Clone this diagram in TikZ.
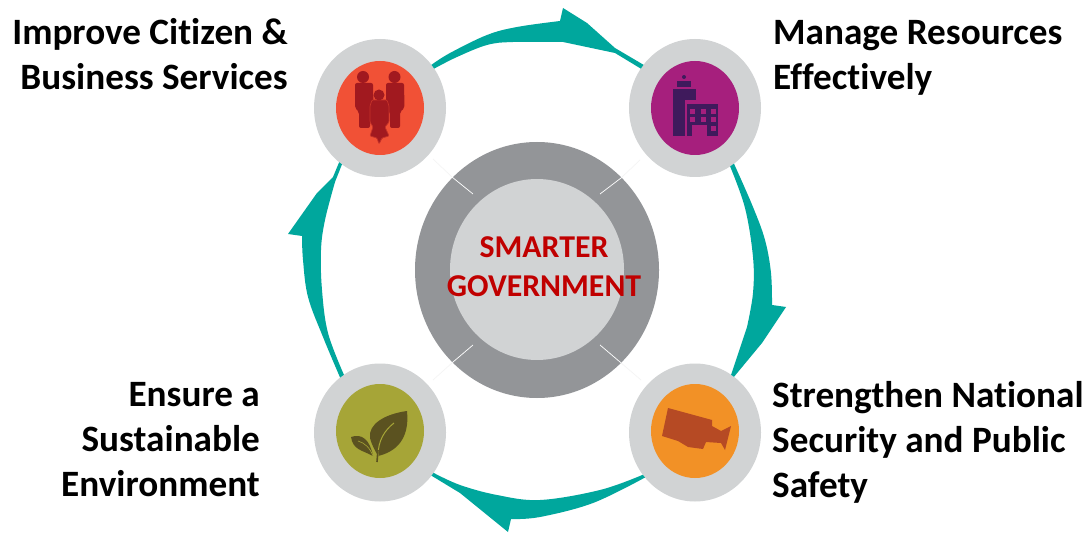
\documentclass[tikz,border=0pt]{standalone}
\usepackage{fontspec}
\setmainfont[Ligatures=NoCommon]{Carlito}
\usetikzlibrary{shapes.geometric}
\definecolor{cteal}{HTML}{00A79D}
\definecolor{cring}{HTML}{939598}
\definecolor{clight}{HTML}{D1D3D4}
\definecolor{cred}{HTML}{F15136}
\definecolor{cdred}{HTML}{A1191F}
\definecolor{cpur}{HTML}{A61F7D}
\definecolor{cdpur}{HTML}{3F1A5C}
\definecolor{corg}{HTML}{F29126}
\definecolor{cdorg}{HTML}{B64A24}
\definecolor{coli}{HTML}{A6A537}
\definecolor{cdoli}{HTML}{5B5220}
\definecolor{ctitle}{HTML}{C00000}
\tikzset{
  disc/.style={ellipse,inner sep=0pt,outer sep=0pt,fill=clight,minimum width=132pt,minimum height=138pt},
  core/.style={ellipse,inner sep=0pt,outer sep=0pt,minimum width=88pt,minimum height=94pt},
  flow/.style={fill=cteal,draw=none},
  crv/.style={smooth,tension=.6},
  seam/.style={line width=0.7pt},
  lab/.style={font=\bfseries\fontsize{37.2}{45}\selectfont,inner sep=0pt,text=black},
  title/.style={font=\bfseries\fontsize{31.8}{39}\selectfont,inner sep=0pt,text=ctitle,align=center}
}
\begin{document}
\begin{tikzpicture}[x=1pt,y=-1pt]
\useasboundingbox[fill=white] (0,0) rectangle (1089,534);
% central ring
\node[ellipse,inner sep=0pt,fill=cring,minimum width=244pt,minimum height=256pt] (ring) at (537,270) {};
\node[ellipse,inner sep=0pt,fill=clight,minimum width=174pt,minimum height=181pt] (hub) at (537,269.5) {};
\draw[seam,draw=white] (452,177) -- (473,194);
\draw[seam,draw=white] (621,178) -- (600,194);
\draw[seam,draw=white] (453,362) -- (473,345);
\draw[seam,draw=white] (620,362) -- (600,345);
\draw[seam,draw=black!4] (433,159) -- (452,177);
\draw[seam,draw=black!4] (640,160) -- (621,178);
\draw[seam,draw=black!4] (433,380) -- (453,362);
\draw[seam,draw=black!4] (641,380) -- (620,362);
\node[title] (ttl) at (544,267) {SMARTER\\GOVERNMENT};
% discs
\node[disc] (citizen) at (380,108) {};
\node[disc] (resources) at (695,108) {};
\node[disc] (security) at (695,432.5) {};
\node[disc] (environment) at (380,432.5) {};
\node[core,fill=cred] (citizenc) at (380,108) {};
\node[core,fill=cpur] (resourcesc) at (695,108) {};
\node[core,fill=corg] (securityc) at (695,431) {};
\node[core,fill=coli] (environmentc) at (380,431) {};
% flow arrows
\fill[flow] plot[crv] coordinates {(citizen.40) (450,53) (487,35) (517,27) (560,21)} -- (563,8) -- (587,23) -- (615,48) -- (resources.140) -- (resources.144) -- (615,53)
  -- plot[crv] coordinates {(563,42) (513,42) (487,45) (457,57) (citizen.36)} -- cycle;
\fill[flow] plot[crv] coordinates {(resources.-55) (753,207) (765,240) (771,273) (772,305)} -- (786,307) -- (762,343) -- (security.55) -- (security.58)
  -- plot[crv] coordinates {(747,327) (753,293) (753,257) (745,208) (resources.-59)} -- cycle;
\fill[flow] plot[crv] coordinates {(security.219) (600,490) (540,500) (497,495) (460,485) (environment.-37)} -- (environment.-40) -- (460,493) -- (508,532) -- (511,519)
  -- plot[crv] coordinates {(511,519) (540,517) (593,503) (security.222)} -- cycle;
\fill[flow] plot[crv] coordinates {(environment.126) (323,337) (308,297) (303,260) (302,236)} -- (288,234) -- (317,193) -- (333,177) -- (citizen.-127) -- (citizen.-124)
  -- plot[crv] coordinates {(335,182) (325,220) (321,250) (322,290) (328,333) (environment.122)} -- cycle;
% people icon
\fill[cdred] (363,77) circle (6);
\fill[cdred] (394.5,77) circle (6);
\fill[cdred,rounded corners=2pt] (355,83) -- (373,83) -- (373.5,108) -- (370,112) -- (370,128) -- (359,128) -- (359,112) -- (355,108) -- cycle;
\fill[cdred,rounded corners=2pt] (386,83) -- (404,83) -- (404.5,108) -- (400,112) -- (400,128) -- (390,128) -- (390,112) -- (386,108) -- cycle;
\fill[cdred,draw=cred!45!cdred,line width=.7pt,rounded corners=1pt] (372,100) -- (387,100) -- (389,106) -- (389,122) -- (385,127) -- (389,136) -- (382,138) -- (379,144) -- (377,138) -- (370,136) -- (373,127) -- (370,122) -- (370,106) -- cycle;
\fill[cdred] (379,95) circle (5.5);
% building icon
\fill[cdpur] (684,77) circle (2);
\fill[cdpur] (677,81) rectangle (691,87);
\fill[cdpur] (673,89) rectangle (696,100);
\fill[cdpur] (673,100) rectangle (685,136);
\fill[cdpur] (687,104) rectangle (718,136);
\foreach \wx/\wy in {692/112,703/112,713/112,692/120,703/120,713/120,713/129}{
  \fill[cpur] (\wx-2.5,\wy-2.5) rectangle (\wx+2.5,\wy+2.5);
}
\fill[cpur] (692,125) rectangle (707,136);
% camera icon
\fill[cdorg] (668,408) -- (712,420) -- (712,426) -- (721,431) -- (731,426) -- (725,450) -- (721,443) -- (706,442) -- (703,449) -- (688,447) -- (678,441) -- (662,436) -- cycle;
% leaf icon
\fill[cdoli] (407,411) .. controls (385,414) and (368,424) .. (370,438) .. controls (372,446) and (376,452) .. (378,456) .. controls (395,452) and (410,440) .. (407,411) -- cycle;
\fill[cdoli] (351,437) .. controls (362,433) and (370,440) .. (373,456) .. controls (362,450) and (353,450) .. (351,437) -- cycle;
\draw[coli,line width=1pt] (378,456) .. controls (378,440) and (385,430) .. (394,423);
\draw[coli,line width=.6pt] (358,441) .. controls (365,443) and (370,448) .. (373,456);
\draw[cdoli,line width=1.6pt] (377,462) -- (378,450);
% labels
\node[lab,anchor=north east,align=right] (l1) at (288,18.5) {Improve Citizen \&\\Business Services};
\node[lab,anchor=north west,align=left] (l2) at (773,20) {Manage Resources\\Effectively};
\node[lab,anchor=north west,align=left] (l3) at (772,381) {Strengthen National\\Security and Public\\Safety};
\node[lab,anchor=north east,align=right] (l4) at (260,382.5) {Ensure a\\Sustainable\\Environment};
\end{tikzpicture}
\end{document}
